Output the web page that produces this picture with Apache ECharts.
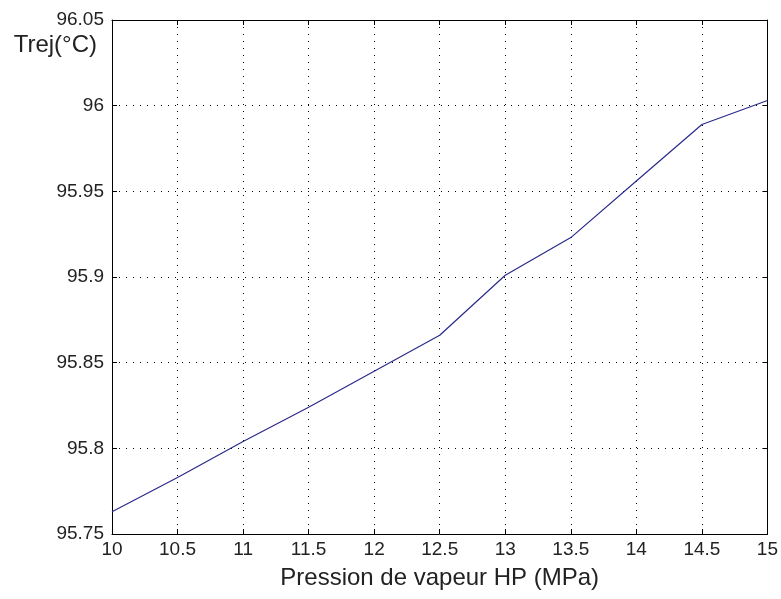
<!DOCTYPE html>
<html>
<head>
<meta charset="utf-8">
<title>Trej vs pression de vapeur HP</title>
<script src="https://cdn.jsdelivr.net/npm/echarts@6/dist/echarts.min.js"></script>
<style>
  html, body { margin: 0; padding: 0; background: #ffffff; }
  #chart { width: 781px; height: 599px; }
</style>
</head>
<body>
<div id="chart"></div>
<script>
// Pression de vapeur HP (MPa)
const pressure = [10, 10.5, 11, 11.5, 12, 12.5, 13, 13.5, 14, 14.5, 15];
// Température de rejet Trej (°C)
const trej = [95.763, 95.783, 95.804, 95.824, 95.845, 95.866, 95.901, 95.923, 95.956, 95.989, 96.003];

const xTicks = { min: 10, max: 15, interval: 0.5 };
const yTicks = { min: 95.75, max: 96.05, interval: 0.05 };

const fontFamily = '"Liberation Sans", Arial, Helvetica, sans-serif';
const ink = '#000000';

const chart = echarts.init(document.getElementById('chart'), null, { renderer: 'canvas' });

const boxAxisLine = { show: true, onZero: false, lineStyle: { color: ink, width: 1 } };
const inTicks = { show: true, inside: true, length: 5, lineStyle: { color: ink, width: 1 } };
const dotted = { show: true, lineStyle: { color: ink, width: 1, type: [1, 6] } };

chart.setOption({
  animation: false,
  backgroundColor: '#ffffff',
  grid: { left: 112, right: 13, top: 20, bottom: 65, containLabel: false },
  xAxis: [
    {
      type: 'value',
      position: 'bottom',
      min: xTicks.min, max: xTicks.max, interval: xTicks.interval,
      name: 'Pression de vapeur HP (MPa)',
      nameLocation: 'middle',
      nameGap: 32,
      nameTextStyle: { color: '#222', fontSize: 24, fontFamily: fontFamily },
      axisLine: boxAxisLine,
      axisTick: inTicks,
      axisLabel: { color: '#222', fontSize: 19, fontFamily: fontFamily, margin: 6 },
      splitLine: dotted
    },
    {
      type: 'value',
      position: 'top',
      min: xTicks.min, max: xTicks.max, interval: xTicks.interval,
      axisLine: boxAxisLine,
      axisTick: inTicks,
      axisLabel: { show: false },
      splitLine: { show: false }
    }
  ],
  yAxis: [
    {
      type: 'value',
      position: 'left',
      min: yTicks.min, max: yTicks.max, interval: yTicks.interval,
      name: 'Trej(°C)',
      nameLocation: 'end',
      nameGap: -25,
      nameTextStyle: {
        color: '#222', fontSize: 24, fontFamily: fontFamily,
        align: 'right', verticalAlign: 'middle', padding: [0, 15, 0, 0]
      },
      axisLine: boxAxisLine,
      axisTick: inTicks,
      axisLabel: { color: '#222', fontSize: 19, fontFamily: fontFamily, margin: 8 },
      splitLine: dotted
    },
    {
      type: 'value',
      position: 'right',
      min: yTicks.min, max: yTicks.max, interval: yTicks.interval,
      axisLine: boxAxisLine,
      axisTick: inTicks,
      axisLabel: { show: false },
      splitLine: { show: false }
    }
  ],
  series: [
    {
      type: 'line',
      xAxisIndex: 0,
      yAxisIndex: 0,
      data: pressure.map((p, i) => [p, trej[i]]),
      showSymbol: false,
      symbol: 'none',
      smooth: false,
      lineStyle: { color: '#2a2a8c', width: 1.2 }
    }
  ]
});
</script>
</body>
</html>
